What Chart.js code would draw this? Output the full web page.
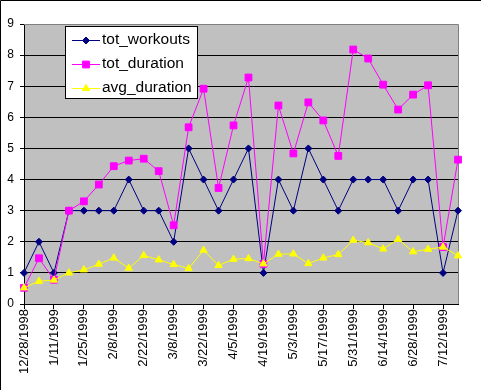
<!DOCTYPE html>
<html>
<head>
<meta charset="utf-8">
<script src="https://cdn.jsdelivr.net/npm/chart.js@4/dist/chart.umd.min.js"></script>
<style>
  html, body { margin: 0; padding: 0; background: #fff; }
  canvas { display: block; }
</style>
</head>
<body>
<canvas id="chart" width="481" height="390"></canvas>
<script>
// weekly dates, one point per week
const weeks = [
  '12/28/1998', '1/4/1999', '1/11/1999', '1/18/1999', '1/25/1999', '2/1/1999',
  '2/8/1999', '2/15/1999', '2/22/1999', '3/1/1999', '3/8/1999', '3/15/1999',
  '3/22/1999', '3/29/1999', '4/5/1999', '4/12/1999', '4/19/1999', '4/26/1999',
  '5/3/1999', '5/10/1999', '5/17/1999', '5/24/1999', '5/31/1999', '6/7/1999',
  '6/14/1999', '6/21/1999', '6/28/1999', '7/5/1999', '7/12/1999', '7/19/1999'
];

const totWorkouts = [
  1, 2, 1, 3, 3, 3, 3, 4, 3, 3, 2, 5, 4, 3, 4,
  5, 1, 4, 3, 5, 4, 3, 4, 4, 4, 3, 4, 4, 1, 3
];

const totDuration = [
  0.52, 1.47, 0.78, 3.0, 3.3, 3.84, 4.43, 4.61, 4.67, 4.27, 2.53, 5.68, 6.92, 3.73, 5.74,
  7.28, 1.29, 6.38, 4.84, 6.48, 5.9, 4.76, 8.18, 7.89, 7.05, 6.25, 6.73, 7.03, 1.83, 4.64
];

const avgDuration = [
  0.52, 0.73, 0.77, 1.0, 1.1, 1.28, 1.48, 1.15, 1.56, 1.42, 1.27, 1.14, 1.73, 1.24, 1.44,
  1.46, 1.29, 1.6, 1.61, 1.3, 1.48, 1.59, 2.05, 1.97, 1.77, 2.08, 1.68, 1.76, 1.83, 1.55
];

const yTicks = { min: 0, max: 9, step: 1 };

const FONT = "'Liberation Sans', Arial, sans-serif";
const NAVY = '#000080';
const MAGENTA = '#FF00FF';
const YELLOW = '#FFFF00';

// gray plot area, outer frame and the boxed legend, Excel style
const excelFrame = {
  id: 'excelFrame',
  beforeDraw(chart) {
    const { ctx, chartArea: a } = chart;
    ctx.save();
    ctx.fillStyle = '#fff';
    ctx.fillRect(0, 0, chart.width, chart.height);
    ctx.fillStyle = '#C0C0C0';
    ctx.fillRect(a.left, a.top, a.right - a.left, a.bottom - a.top);
    ctx.strokeStyle = '#000';
    ctx.lineWidth = 1;
    ctx.beginPath();
    ctx.moveTo(0.5, chart.height);
    ctx.lineTo(0.5, 0.5);
    ctx.lineTo(chart.width, 0.5);
    ctx.stroke();
    ctx.restore();
  },
  beforeDatasetsDraw(chart) {
    const { ctx, chartArea: a } = chart;
    ctx.save();
    ctx.strokeStyle = '#808080';
    ctx.lineWidth = 1;
    ctx.beginPath();
    ctx.moveTo(Math.round(a.left), Math.round(a.top) + 0.5);
    ctx.lineTo(Math.round(a.right) + 0.5, Math.round(a.top) + 0.5);
    ctx.lineTo(Math.round(a.right) + 0.5, Math.round(a.bottom));
    ctx.stroke();
    ctx.restore();
  },
  afterDraw(chart) {
    const ctx = chart.ctx;
    ctx.save();
    ctx.fillStyle = '#fff';
    ctx.fillRect(65, 26, 132, 72);
    ctx.strokeStyle = '#000';
    ctx.lineWidth = 1;
    ctx.strokeRect(65.5, 26.5, 132, 72);
    ctx.font = '15.5px ' + FONT;
    ctx.textBaseline = 'middle';
    chart.data.datasets.forEach((ds, i) => {
      const y = 40 + i * 24;
      ctx.strokeStyle = ds.borderColor;
      ctx.lineWidth = 1;
      ctx.beginPath();
      ctx.moveTo(72, y + 0.5);
      ctx.lineTo(100, y + 0.5);
      ctx.stroke();
      ctx.fillStyle = ds.pointBackgroundColor;
      ctx.strokeStyle = ds.pointBorderColor;
      Chart.helpers.drawPoint(ctx, {
        pointStyle: ds.pointStyle, radius: ds.pointRadius, rotation: 0, borderWidth: 1
      }, 86, y + 0.5);
      ctx.fillStyle = '#000';
      ctx.fillText(ds.label, 102, y);
    });
    ctx.restore();
  }
};

function series(label, data, color, style, radius, order) {
  return {
    label, data, order,
    borderColor: color,
    backgroundColor: color,
    borderWidth: 1,
    pointStyle: style,
    pointRadius: radius,
    pointHoverRadius: radius,
    pointBackgroundColor: color,
    pointBorderColor: color,
    pointBorderWidth: 1,
    tension: 0,
    clip: false
  };
}

new Chart(document.getElementById('chart'), {
  type: 'line',
  data: {
    labels: weeks,
    datasets: [
      series('tot_workouts', totWorkouts, NAVY, 'rectRot', 3.5, 3),
      series('tot_duration', totDuration, MAGENTA, 'rect', 4.8, 2),
      series('avg_duration', avgDuration, YELLOW, 'triangle', 4.2, 1)
    ]
  },
  options: {
    responsive: false,
    animation: false,
    events: [],
    layout: { padding: { top: 24, right: 23, left: 0, bottom: 0 } },
    plugins: { legend: { display: false }, tooltip: { enabled: false } },
    scales: {
      x: {
        offset: false,
        afterFit: (s) => { s.height = 86; },
        border: { color: '#000', width: 1 },
        grid: { drawOnChartArea: false, drawTicks: true, tickLength: 5, tickColor: '#000' },
        ticks: {
          autoSkip: false,
          minRotation: 90,
          maxRotation: 90,
          padding: 0,
          color: '#000',
          font: { family: FONT, size: 13 },
          callback: (v, i) => (i % 2 === 0 ? weeks[i] : null)
        }
      },
      y: {
        min: yTicks.min,
        max: yTicks.max,
        afterFit: (s) => { s.width = 24; },
        border: { color: '#000', width: 1 },
        grid: {
          color: (c) => (c.tick && c.tick.value === yTicks.max ? '#808080' : '#000'),
          tickColor: '#000',
          tickLength: 4,
          lineWidth: 1
        },
        ticks: {
          stepSize: yTicks.step,
          padding: 6,
          color: '#000',
          font: { family: FONT, size: 12 }
        }
      }
    }
  },
  plugins: [excelFrame]
});
</script>
</body>
</html>
